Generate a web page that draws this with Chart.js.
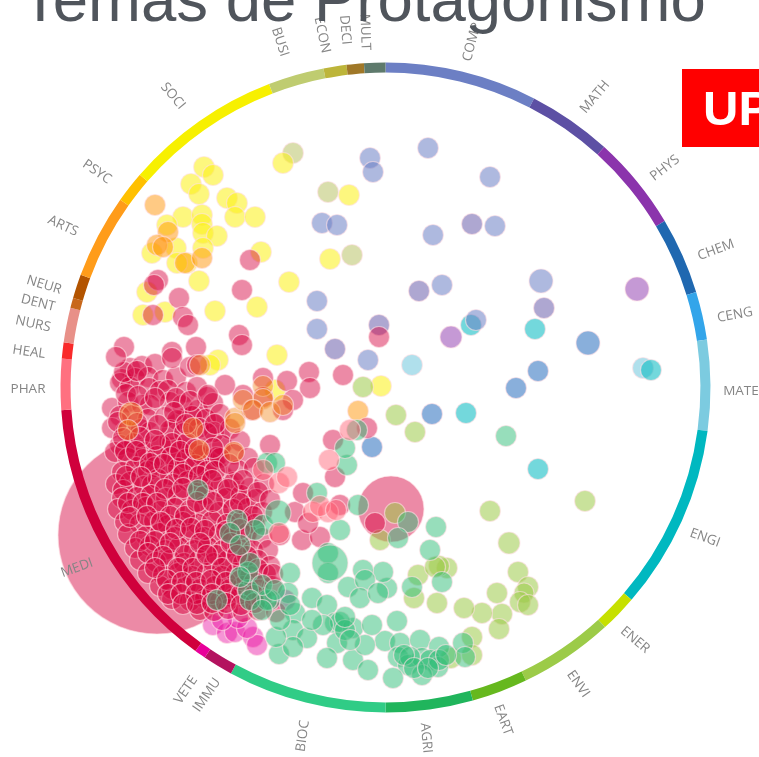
<!DOCTYPE html>
<html lang="es">

<head>
    <meta charset="UTF-8">
    <title>Temas de Protagonismo</title>
    <script src="https://cdn.jsdelivr.net/npm/chart.js"></script>
    <style>
        html, body {
            margin: 0;
            width: 759px;
            height: 757px;
            overflow: hidden;
            background: #fff;
        }

        canvas {
            position: absolute;
            left: 0;
            top: 0;
            filter: blur(0.4px);
        }

        h1 {
            position: absolute;
            left: 21px;
            top: -32px;
            margin: 0;
            font: normal 63.5px/1 "Liberation Sans", Arial, sans-serif;
            color: #50555c;
            white-space: nowrap;
            z-index: 3;
        }

        #logo {
            position: absolute;
            left: 682px;
            top: 69px;
            width: 77px;
            height: 78px;
            overflow: hidden;
            background: #ff0000;
            color: #fff;
            font: bold 49px/78px "Liberation Sans", Arial, sans-serif;
            text-indent: 21px;
            white-space: nowrap;
            z-index: 3;
        }
    </style>
</head>

<body>

    <h1>Temas de Protagonismo</h1>
    <div id="logo">UP</div>
    <canvas id="bubbles" width="759" height="757"></canvas>
    <canvas id="ring" width="759" height="757"></canvas>

    <script>
        // Ring: subject areas, clockwise from the top, width in degrees
        const categories = ['COMP', 'MATH', 'PHYS', 'CHEM', 'CENG', 'MATE', 'ENGI', 'ENER', 'ENVI', 'EART', 'AGRI', 'BIOC', 'IMMU', 'VETE', 'MEDI', 'PHAR', 'HEAL', 'NURS', 'DENT', 'NEUR', 'ARTS', 'PSYC', 'SOCI', 'BUSI', 'ECON', 'DECI', 'MULT'];
        const categorySpans = [27.2, 15.1, 16.9, 13.7, 8.6, 16.2, 33.1, 6.7, 16.9, 10, 15.6, 28.4, 5.4, 2, 50.2, 9.1, 2.9, 6.2, 1.8, 4.3, 15, 5.6, 28.1, 10, 4.1, 3.1, 3.8];
        const categoryColors = ['#6c7fc4', '#5d50a4', '#8b34ac', '#2068b0', '#33a5ea', '#7ccbe0', '#00b8c0', '#c6e000', '#9ccb48', '#66b81e', '#20b55c', '#30cc86', '#b3135f', '#e8009a', '#d0003c', '#ff7080', '#f92a2a', '#e89088', '#c8681c', '#b35400', '#ff9c1a', '#ffc000', '#f7f000', '#bfcc70', '#bdb53a', '#a07828', '#5e7a6c'];

        // Where each ring label sits: centre x, centre y, rotation in degrees
        const labelX = [472, 595, 665, 716, 735, 741, 705, 635, 578, 503, 426, 303, 207, 186, 77, 28, 29, 33, 38, 44, 63, 97, 173, 280, 322, 345, 365];
        const labelY = [42, 97, 168, 250, 315, 391, 538, 640, 684, 720, 738, 736, 695, 690, 568, 389, 352, 324, 303, 285, 226, 172, 96, 42, 35, 30, 32];
        const labelRot = [-75, -50, -38, -20, -10, 0, 20, 40, 55, 70, 85, -82, -55, -55, -20, 0, 8, 12, 14, 17, 25, 35, 50, 72, 78, 85, 88];

        // Bubbles: [x, y] in picture units, optional third value = radius
        const mediLarge = [[157, 535, 99], [391, 509, 33], [195, 442, 36]];
        const mediPoints = [
            [130, 368], [142, 366], [155, 364],
            [122, 379], [135, 378], [148, 377], [163, 380], [176, 377],
            [120, 383], [130, 387], [149, 388], [160, 391], [168, 390], [186, 392], [197, 387], [207, 397],
            [112, 408], [128, 402], [142, 405], [150, 405], [170, 402], [182, 405], [198, 410], [213, 403],
            [120, 416], [132, 415], [148, 419], [165, 417], [177, 420], [192, 416], [206, 419], [220, 414],
            [112, 428], [126, 431], [141, 429], [150, 432], [170, 430], [184, 433], [199, 428], [214, 432], [230, 429],
            [120, 445], [115, 452], [134, 443], [145, 452], [161, 445], [172, 443], [187, 443], [207, 433], [222, 445], [240, 441],
            [128, 458], [143, 459], [157, 456], [171, 457], [186, 459], [202, 455], [217, 457], [234, 454], [248, 458],
            [122, 472], [136, 467], [148, 471], [155, 467], [170, 475], [178, 468], [195, 465], [207, 471], [220, 458], [238, 470], [254, 468],
            [116, 484], [130, 482], [144, 486], [152, 485], [158, 479], [173, 484], [188, 481], [203, 486], [220, 487], [234, 482], [250, 488], [264, 484],
            [123, 490], [122, 498], [137, 497], [151, 495], [166, 498], [178, 495], [197, 493], [205, 495], [226, 498], [241, 495], [256, 499],
            [118, 509], [132, 510], [146, 507], [160, 511], [175, 508], [190, 510], [204, 507], [219, 512], [233, 509], [248, 508], [262, 512],
            [125, 522], [140, 524], [154, 521], [168, 525], [183, 522], [198, 524], [212, 521], [227, 524], [241, 521], [255, 524],
            [128, 534], [146, 536], [160, 533], [175, 537], [190, 534], [204, 537], [219, 534], [233, 537], [247, 533], [262, 538],
            [135, 548], [150, 546], [165, 550], [179, 547], [194, 550], [208, 547], [223, 550], [238, 547], [253, 550], [268, 550],
            [140, 560], [156, 562], [170, 560], [184, 563], [199, 560], [214, 563], [228, 560], [243, 563], [258, 560], [270, 566],
            [148, 573], [163, 575], [178, 573], [192, 576], [207, 573], [222, 576], [236, 573], [250, 576], [266, 574],
            [160, 586], [172, 589], [186, 586], [200, 589], [215, 586], [230, 589], [243, 586], [258, 589], [272, 586],
            [172, 599], [190, 601], [205, 598], [220, 601], [234, 598], [248, 601], [262, 598],
            [200, 610], [214, 611], [228, 609], [243, 612], [258, 610],
            [124, 372], [137, 371], [126, 394], [138, 396], [155, 398], [176, 398], [190, 401], [118, 422], [137, 423], [158, 425], [174, 412], [186, 424], [215, 424],
            [123, 438], [140, 437], [155, 440], [180, 451], [195, 449], [213, 448], [125, 451], [136, 451], [150, 463], [164, 464], [183, 474], [199, 476], [215, 471],
            [229, 464], [243, 480], [126, 476], [141, 477], [165, 489], [183, 488], [212, 480], [228, 489], [258, 492], [128, 503], [143, 503], [157, 503], [170, 516],
            [185, 516], [197, 502], [213, 502], [240, 503], [253, 516], [130, 517], [147, 516], [161, 522], [176, 529], [191, 528], [205, 530], [226, 531], [240, 529],
            [140, 541], [155, 541], [170, 543], [185, 555], [200, 543], [216, 555], [231, 543], [247, 556], [148, 553], [163, 556], [178, 568], [193, 568], [207, 555],
            [222, 568], [237, 555], [258, 569], [155, 568], [167, 580], [182, 582], [196, 582], [211, 580], [226, 582], [240, 580], [254, 582], [168, 594], [181, 594],
            [196, 594], [212, 594], [227, 594], [241, 594], [254, 595], [183, 604], [197, 604], [212, 603], [226, 603], [241, 605], [255, 603],
            [158, 280], [154, 285], [179, 298], [183, 317], [188, 325], [153, 315], [124, 347], [116, 357], [172, 352], [196, 347], [172, 358], [190, 367], [197, 365],
            [250, 260], [242, 290], [239, 335], [242, 345], [309, 372], [343, 375], [287, 381], [263, 378], [263, 397], [310, 388], [293, 400],
            [243, 395], [225, 385], [208, 395], [283, 410], [252, 410], [270, 445], [333, 440], [335, 477], [367, 428], [295, 512], [302, 540],
            [320, 537], [340, 505], [308, 523], [303, 493], [375, 523], [270, 500], [280, 535], [273, 574], [276, 612], [379, 337]
        ];
        const salmonPoints = [[279, 483], [287, 477], [279, 533], [329, 460], [313, 512], [328, 512], [320, 506], [336, 510], [350, 430], [263, 470]];
        const orangeOverRed = [[131, 414, 12], [128, 430], [193, 428], [199, 450], [235, 418], [234, 452], [235, 423], [263, 386], [263, 399], [243, 400], [253, 410], [270, 412], [283, 405], [200, 365]];
        const orangePoints = [[358, 411], [155, 205], [168, 232], [157, 245], [163, 247], [185, 263], [202, 258]];
        const yellowPoints = [[204, 167], [213, 175], [191, 184], [199, 194], [227, 198], [237, 203], [235, 217], [255, 217], [183, 217], [202, 215], [202, 224], [203, 233], [217, 236], [167, 225], [176, 248], [203, 248], [187, 263], [177, 263], [152, 253], [199, 281], [261, 252], [289, 282], [257, 307], [215, 311], [147, 292], [143, 315], [165, 312], [277, 355], [218, 360], [283, 163], [349, 195], [330, 259], [275, 390], [381, 386], [210, 365]];
        const oliveAndGreen = [[293, 153], [328, 192], [352, 255]];
        const compPoints = [[370, 158], [373, 172], [322, 223], [337, 225], [317, 301], [317, 329], [428, 148], [490, 177], [433, 235], [495, 226], [442, 285], [541, 281, 12], [368, 360], [476, 320]];
        const mathPoints = [[472, 224], [419, 291], [544, 308], [335, 349], [379, 325]];
        const physPoints = [[637, 289, 12], [451, 337, 11]];
        const cengPoints = [[588, 343, 12], [538, 371], [516, 388], [432, 414], [372, 447]];
        const engiPoints = [[535, 329], [471, 325], [651, 370], [466, 413], [538, 469]];
        const matePoints = [[412, 365], [643, 368]];
        const envPoints = [[396, 415], [415, 432], [585, 501], [490, 511], [509, 543, 11], [518, 572], [497, 593], [528, 587], [524, 593, 10], [520, 602], [528, 605], [502, 614], [482, 613], [464, 608], [499, 629], [472, 637], [437, 603], [418, 575], [414, 598], [447, 568], [439, 566], [435, 567], [451, 658], [363, 387], [395, 513], [380, 540], [472, 655]];
        const biocPoints = [[506, 436], [436, 527], [430, 550], [442, 582], [412, 587], [387, 588], [383, 572], [397, 621], [385, 641], [400, 643], [420, 640], [439, 647], [463, 643], [465, 657], [398, 657], [408, 665], [422, 658], [430, 660], [438, 667], [422, 675], [393, 678], [408, 522], [398, 538], [348, 587], [363, 570], [365, 580], [360, 598], [328, 553], [328, 573], [330, 563, 18], [340, 530], [358, 505], [378, 593], [312, 598], [327, 605], [335, 623], [353, 628], [372, 625], [337, 643], [327, 658], [353, 660], [368, 670], [365, 645], [295, 613], [293, 630], [307, 638], [279, 654], [293, 647], [276, 637], [290, 573], [288, 593], [270, 600], [248, 590], [248, 572], [263, 525], [237, 520], [230, 533], [217, 600], [267, 600], [250, 563], [278, 513, 13], [347, 465], [345, 448], [267, 463], [275, 463], [317, 493], [357, 430], [198, 490], [340, 622], [345, 630], [439, 660], [410, 657], [404, 655], [323, 625], [345, 617], [350, 640], [312, 620], [240, 545], [255, 530], [240, 577], [262, 585], [275, 590], [250, 600], [280, 620], [262, 610], [290, 605], [414, 668], [428, 668], [446, 655]];
        const immuPoints = [[213, 625], [227, 633], [235, 632], [253, 637], [257, 645], [247, 628], [238, 618], [222, 620], [285, 600]];

        const bubbleColors = {
            medi: 'rgba(214, 0, 62, 0.46)',
            salmon: 'rgba(255, 90, 110, 0.45)',
            orange: 'rgba(255, 150, 10, 0.5)',
            orangeOverRed: 'rgba(240, 130, 20, 0.42)',
            yellow: 'rgba(252, 240, 20, 0.55)',
            olive: 'rgba(180, 190, 90, 0.5)',
            comp: 'rgba(108, 127, 196, 0.55)',
            math: 'rgba(93, 80, 164, 0.5)',
            phys: 'rgba(139, 52, 172, 0.5)',
            ceng: 'rgba(40, 110, 190, 0.55)',
            engi: 'rgba(0, 184, 192, 0.55)',
            mate: 'rgba(124, 203, 224, 0.6)',
            env: 'rgba(156, 203, 72, 0.55)',
            bioc: 'rgba(48, 190, 120, 0.5)',
            immu: 'rgba(232, 0, 154, 0.42)'
        };

        function toBubbles(points) {
            return points.map(p => ({ x: p[0], y: p[1], r: p[2] || 10.5 }));
        }

        function bubbleSet(points, color) {
            return {
                data: toBubbles(points),
                backgroundColor: color,
                borderColor: 'rgba(255, 225, 230, 0.6)',
                borderWidth: 1.2
            };
        }

        // Chart.js paints the first dataset last, so the big circles go at the end
        new Chart(document.getElementById('bubbles'), {
            type: 'bubble',
            data: {
                datasets: [
                    bubbleSet(orangeOverRed, bubbleColors.orangeOverRed),
                    bubbleSet(salmonPoints, bubbleColors.salmon),
                    bubbleSet(biocPoints, bubbleColors.bioc),
                    bubbleSet(mediPoints, bubbleColors.medi),
                    bubbleSet(orangePoints, bubbleColors.orange),
                    bubbleSet(immuPoints, bubbleColors.immu),
                    bubbleSet(envPoints, bubbleColors.env),
                    bubbleSet(yellowPoints, bubbleColors.yellow),
                    bubbleSet(oliveAndGreen, bubbleColors.olive),
                    bubbleSet(compPoints, bubbleColors.comp),
                    bubbleSet(mathPoints, bubbleColors.math),
                    bubbleSet(physPoints, bubbleColors.phys),
                    bubbleSet(cengPoints, bubbleColors.ceng),
                    bubbleSet(engiPoints, bubbleColors.engi),
                    bubbleSet(matePoints, bubbleColors.mate),
                    bubbleSet(mediLarge, bubbleColors.medi)
                ]
            },
            options: {
                responsive: false,
                animation: false,
                clip: false,
                layout: { padding: 0, autoPadding: false },
                plugins: { legend: { display: false }, tooltip: { enabled: false } },
                scales: {
                    x: { display: false, min: 0, max: 759 },
                    y: { display: false, min: 0, max: 757, reverse: true }
                }
            }
        });

        // Draws the category names round the outside of the ring
        const ringLabels = {
            id: 'ringLabels',
            afterDraw(chart) {
                const ctx = chart.ctx;
                ctx.save();
                ctx.font = '13.5px "Open Sans", sans-serif';
                ctx.fillStyle = '#858585';
                ctx.textAlign = 'center';
                ctx.textBaseline = 'middle';
                categories.forEach((name, i) => {
                    ctx.save();
                    ctx.translate(labelX[i], labelY[i]);
                    ctx.rotate(labelRot[i] * Math.PI / 180);
                    ctx.fillText(name, 0, 0);
                    ctx.restore();
                });
                ctx.restore();
            }
        };

        new Chart(document.getElementById('ring'), {
            type: 'doughnut',
            data: {
                labels: categories,
                datasets: [{
                    data: categorySpans,
                    backgroundColor: categoryColors,
                    borderWidth: 0
                }]
            },
            options: {
                responsive: false,
                animation: false,
                cutout: '96.9%',
                layout: { padding: { left: 60.5, right: 48.5, top: 62.5, bottom: 44.5 } },
                plugins: { legend: { display: false }, tooltip: { enabled: false } }
            },
            plugins: [ringLabels]
        });
    </script>

</body>

</html>
